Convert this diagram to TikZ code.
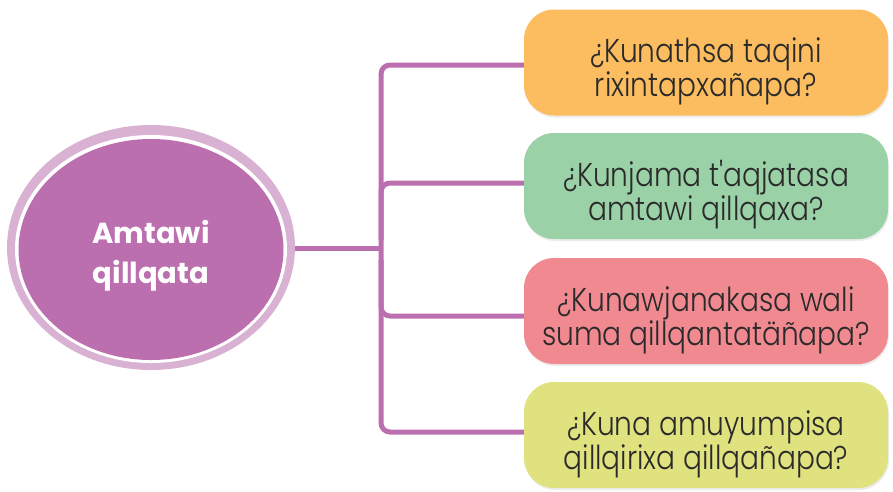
\documentclass[tikz,border=0pt]{standalone}
\usepackage{fontspec}
\newfontfamily\qfont{Poppins}[UprightFont=* Light, FakeStretch=0.85]
\newfontfamily\efont{Poppins}
\usetikzlibrary{shapes.geometric,calc,shadows}
\definecolor{trunk}{HTML}{BC6FAE}
\definecolor{ringc}{HTML}{D9B1D2}
\definecolor{qorange}{HTML}{FBBD5F}
\definecolor{qgreen}{HTML}{9AD1A7}
\definecolor{qpink}{HTML}{F08990}
\definecolor{qyellow}{HTML}{E0E27F}
\definecolor{txt}{HTML}{2A2A2A}
\tikzset{
  qbox/.style={rectangle, rounded corners=30pt, minimum width=364pt, minimum height=106pt,
    align=center, text=txt, font=\qfont\fontsize{33}{34}\selectfont, inner sep=0pt,
    text height=75pt, text depth=7pt,
    drop shadow={shadow xshift=1pt, shadow yshift=-2pt, fill=black!15}},
  conn/.style={draw=trunk, line width=5pt, rounded corners=9pt},
}
\begin{document}
\begin{tikzpicture}[x=1pt,y=-1pt]
\useasboundingbox (0,0) rectangle (893,491);
% central ellipse
\node[ellipse, fill=ringc, minimum width=288pt, minimum height=245pt, inner sep=0pt] (outer) at (151,247.5) {};
\node[ellipse, fill=white, minimum width=272pt, minimum height=228pt, inner sep=0pt] (wring) at (151,249) {};
\node[ellipse, fill=trunk, minimum width=265pt, minimum height=221pt, inner sep=0pt,
  text=white, align=center, font=\efont\bfseries\fontsize{29}{40}\selectfont,
  text height=67pt, text depth=0pt] (c) at (151,249.5) {Amtawi\\qillqata};
% boxes
\node[qbox, fill=qorange] (b1) at (706,62.5) {¿Kunathsa taqini\\rixintapxañapa?};
\node[qbox, fill=qgreen] (b2) at (706,186) {¿Kunjama t'aqjatasa\\amtawi qillqaxa?};
\node[qbox, fill=qpink] (b3) at (706,311) {¿Kunawjanakasa wali\\suma qillqantatäñapa?};
\node[qbox, fill=qyellow] (b4) at (706,435) {¿Kuna amuyumpisa\\qillqirixa qillqañapa?};
% connectors
\coordinate (t1) at (381,65);
\coordinate (t2) at (381,183);
\coordinate (tc) at (381,248);
\coordinate (t3) at (381,316);
\coordinate (t4) at (381,432);
\draw[conn] (b1.west |- t1) -- (t1) -- (t4) -- (b4.west |- t4);
\draw[conn] (b2.west |- t2) -- (t2) -- (381,240);
\draw[conn] (b3.west |- t3) -- (t3) -- (381,260);
\draw[draw=trunk, line width=5pt] (outer.east |- tc) -- (tc);
\end{tikzpicture}
\end{document}
